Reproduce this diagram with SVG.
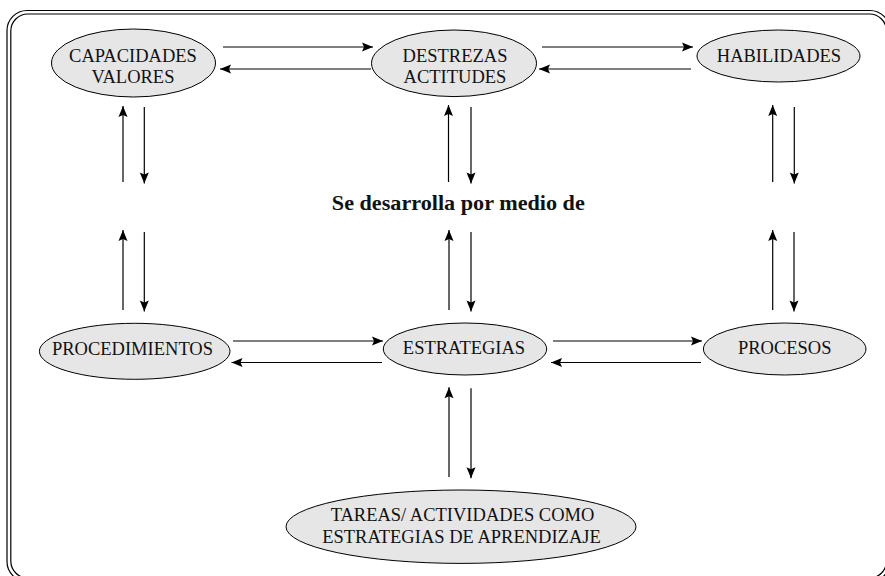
<svg xmlns="http://www.w3.org/2000/svg" width="885" height="576" viewBox="0 0 885 576">
<style>
.frame{fill:none;stroke:#000;stroke-width:1.2}
.node ellipse{fill:#e6e6e6;stroke:#000;stroke-width:1}
.node text{font-family:"Liberation Serif",serif;font-size:18.5px;fill:#111;text-anchor:middle}
.lbl{font-family:"Liberation Serif",serif;font-size:21px;font-weight:bold;fill:#111;text-anchor:middle}
#connectors line{stroke:#000;stroke-width:1.2;marker-end:url(#ah)}
</style>
<defs>
<marker id="ah" markerUnits="userSpaceOnUse" markerWidth="14" markerHeight="12" refX="11" refY="0" viewBox="-1 -6 14 12" orient="auto">
<path d="M0,-4.5 L11,0 L0,4.5 L2,0 z" fill="#000"/>
</marker>
</defs>
<rect width="885" height="576" fill="#fff"/>
<g id="frame">
<rect class="frame" x="7" y="10.5" width="883" height="571" rx="20" ry="20"/>
<rect class="frame" x="10.8" y="14" width="875.7" height="564" rx="17" ry="17"/>
</g>
<g id="connectors">
<!-- row 1 horizontal -->
<line x1="223" y1="47" x2="373" y2="47"/>
<line x1="371" y1="69" x2="220" y2="69"/>
<line x1="542" y1="47" x2="693" y2="47"/>
<line x1="691" y1="69" x2="539" y2="69"/>
<!-- row 2 horizontal -->
<line x1="233" y1="341" x2="383" y2="341"/>
<line x1="382" y1="362.5" x2="231.5" y2="362.5"/>
<line x1="553" y1="341" x2="702" y2="341"/>
<line x1="701" y1="362.5" x2="551" y2="362.5"/>
<!-- column A -->
<line x1="123" y1="182" x2="123" y2="106"/>
<line x1="144.3" y1="107" x2="144.3" y2="183.5"/>
<line x1="123" y1="310" x2="123" y2="230"/>
<line x1="144.3" y1="232" x2="144.3" y2="311.5"/>
<!-- column B -->
<line x1="448.5" y1="182" x2="448.5" y2="105"/>
<line x1="471" y1="107" x2="471" y2="183.5"/>
<line x1="449" y1="310" x2="449" y2="230"/>
<line x1="471" y1="232" x2="471" y2="311.5"/>
<!-- column C -->
<line x1="772.7" y1="182" x2="772.7" y2="105"/>
<line x1="794.3" y1="107" x2="794.3" y2="183.5"/>
<line x1="772.7" y1="310" x2="772.7" y2="230"/>
<line x1="794" y1="232" x2="794" y2="311.5"/>
<!-- bottom -->
<line x1="449" y1="477" x2="449" y2="387.3"/>
<line x1="471" y1="388.3" x2="471" y2="478.3"/>
</g>
<g id="label-se-desarrolla">
<text class="lbl" x="458.3" y="210" textLength="253" lengthAdjust="spacingAndGlyphs">Se desarrolla por medio de</text>
</g>
<g id="capacidades" class="node">
<ellipse cx="133.5" cy="63" rx="82" ry="34"/>
<text x="133" y="61.7">CAPACIDADES</text>
<text x="133" y="83.3">VALORES</text>
</g>
<g id="destrezas" class="node">
<ellipse cx="454" cy="63.3" rx="82.5" ry="33.3"/>
<text x="455" y="61.7">DESTREZAS</text>
<text x="455" y="82.7">ACTITUDES</text>
</g>
<g id="habilidades" class="node">
<ellipse cx="778.5" cy="56" rx="81.5" ry="26"/>
<text x="779" y="61.7">HABILIDADES</text>
</g>
<g id="procedimientos" class="node">
<ellipse cx="134.7" cy="351.3" rx="95.3" ry="28"/>
<text x="132.5" y="355">PROCEDIMIENTOS</text>
</g>
<g id="estrategias" class="node">
<ellipse cx="465" cy="349" rx="81.7" ry="26"/>
<text x="464" y="354">ESTRATEGIAS</text>
</g>
<g id="procesos" class="node">
<ellipse cx="784.7" cy="349" rx="81.3" ry="26"/>
<text x="784.7" y="354">PROCESOS</text>
</g>
<g id="tareas" class="node">
<ellipse cx="461" cy="526.7" rx="175" ry="36.7"/>
<text x="462.5" y="521">TAREAS/ ACTIVIDADES COMO</text>
<text x="461.5" y="543.3">ESTRATEGIAS DE APRENDIZAJE</text>
</g>
</svg>
